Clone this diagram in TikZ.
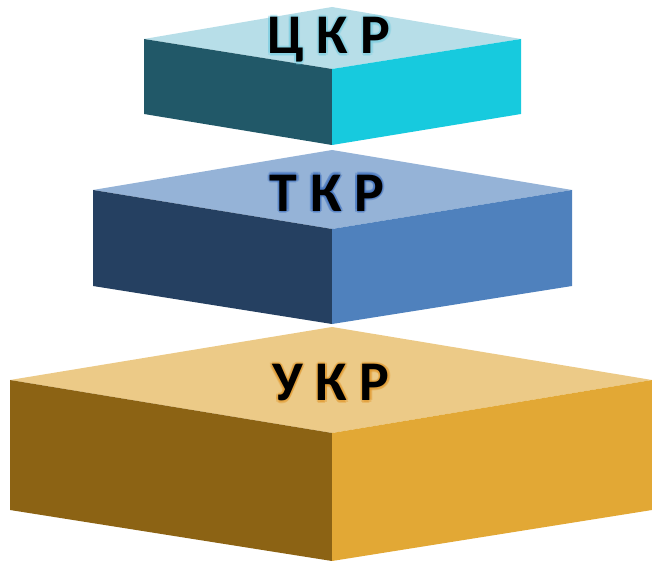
\documentclass[tikz,border=0pt]{standalone}
\usepackage{fontspec}
\setmainfont{Carlito}
\usetikzlibrary{calc}
\definecolor{cTop}{RGB}{183,222,232}
\definecolor{cLeft}{RGB}{33,88,104}
\definecolor{cRight}{RGB}{23,202,222}
\definecolor{tTop}{RGB}{149,179,215}
\definecolor{tLeft}{RGB}{37,64,97}
\definecolor{tRight}{RGB}{79,129,189}
\definecolor{uTop}{RGB}{236,202,135}
\definecolor{uLeft}{RGB}{140,99,20}
\definecolor{uRight}{RGB}{226,168,53}
\definecolor{gC}{RGB}{120,205,225}
\definecolor{gT}{RGB}{60,110,190}
\definecolor{gU}{RGB}{225,150,40}
\tikzset{
  lbl/.style={font=\fontsize{56}{60}\selectfont\bfseries, inner sep=0pt, text=black},
  glowlbl/.style={lbl, text=#1, opacity=0.35},
}
\newcommand{\slab}[8]{%
  \fill[#8Top] (332,#1) -- (#3,#4) -- (332,#5) -- (#2,#4) -- cycle;
  \fill[#8Left] (#2,#4) -- (332,#5) -- (332,#7) -- (#2,#6) -- cycle;
  \fill[#8Right] (332,#5) -- (#3,#4) -- (#3,#6) -- (332,#7) -- cycle;
}
\newcommand{\glowtext}[4]{%
  \foreach \a in {0,45,...,315} {
    \node[glowlbl=#3] at ($(#1)+(\a:2.2)$) {#4};
  }
  \node[lbl] (#2) at (#1) {#4};
}
\begin{document}
\begin{tikzpicture}[x=1pt,y=-1pt]
\useasboundingbox (0,0) rectangle (652,561);
\slab{7}{144}{521}{39}{69}{114}{145}{c}
\slab{150}{93}{572}{190}{229}{286}{324}{t}
\slab{327}{10}{652}{380}{433}{510}{561}{u}
\coordinate (pc) at (329,40);
\coordinate (pt) at (327,193);
\coordinate (pu) at (331,383);
\glowtext{pc}{lc}{gC}{Ц К Р}
\glowtext{pt}{lt}{gT}{Т К Р}
\glowtext{pu}{lu}{gU}{У К Р}
\end{tikzpicture}
\end{document}
